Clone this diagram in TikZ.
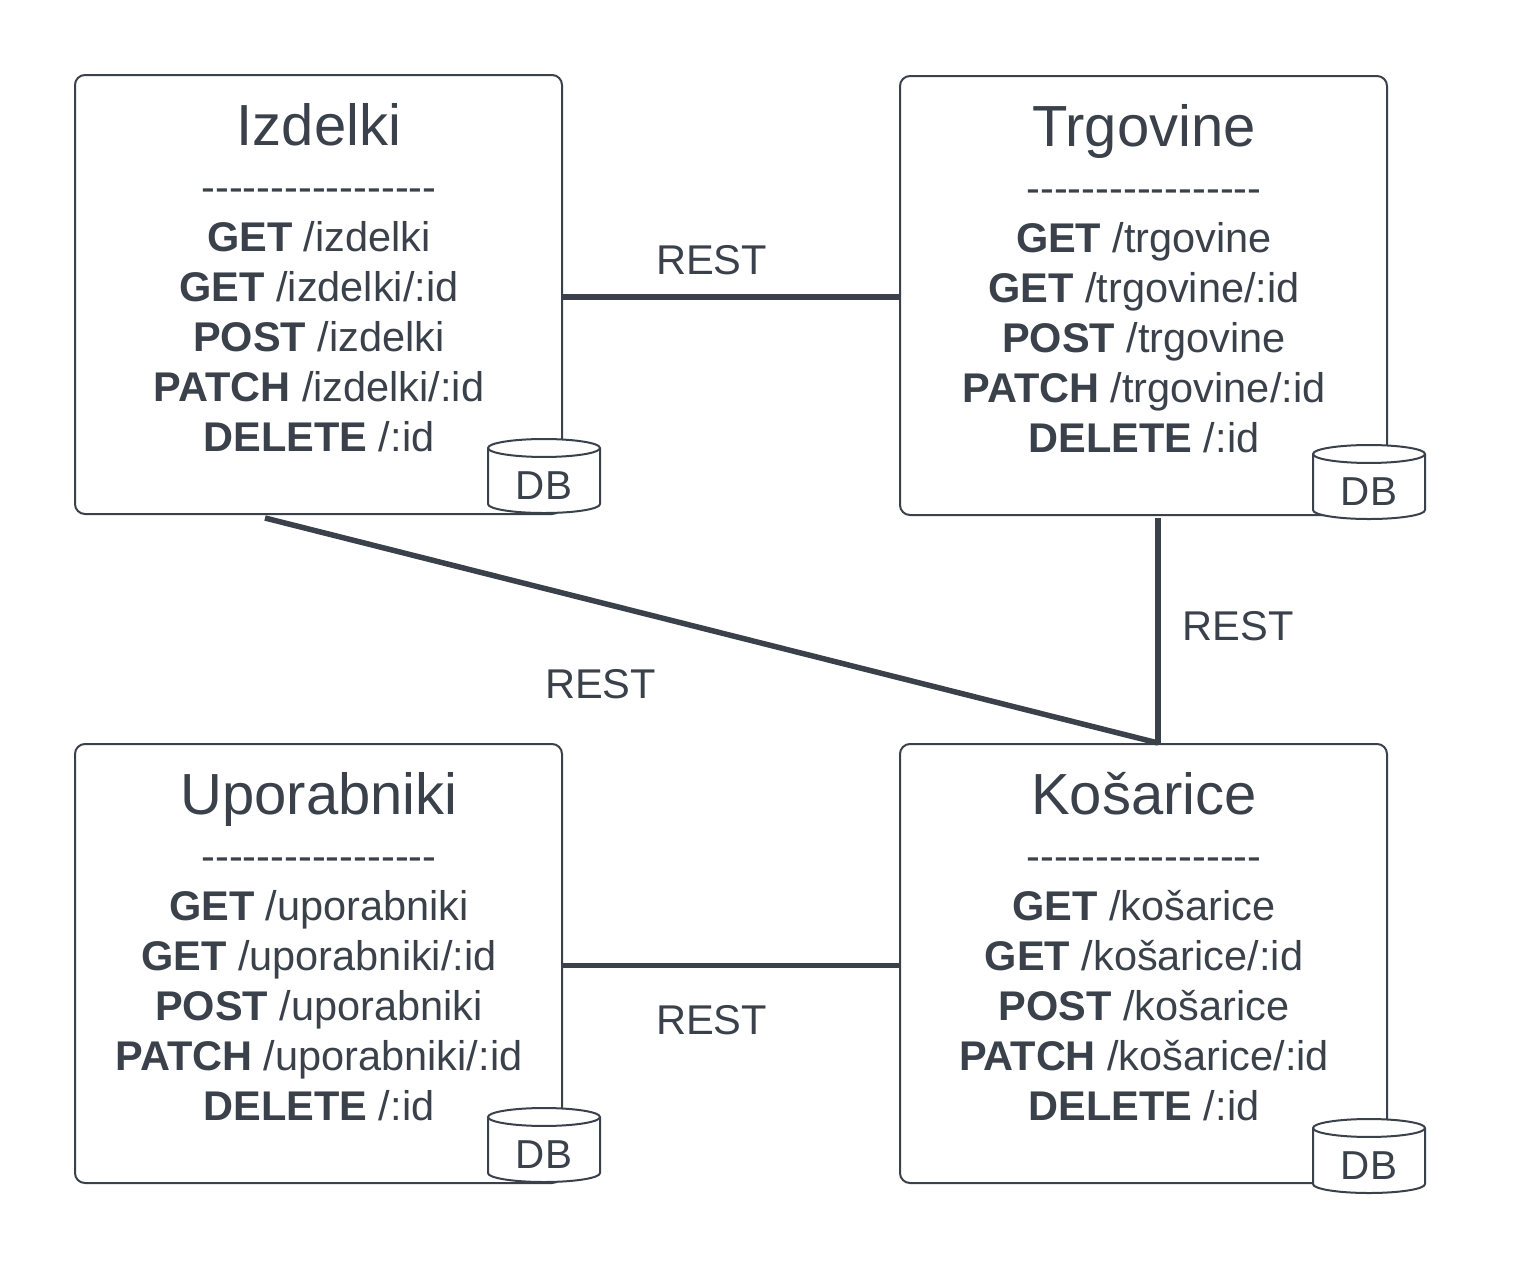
\documentclass[tikz,border=0pt]{standalone}
\usepackage{fontspec}
\newfontfamily\servicefont{Liberation Sans}
\usetikzlibrary{positioning,shapes.geometric}
\definecolor{slate}{HTML}{3A414A}
\newcommand{\titlesize}{\fontsize{29}{33}\selectfont}
\newcommand{\dashrow}{-----------------}
\tikzset{
  service box/.style={draw=slate,line width=1pt,rounded corners=5pt,minimum width=243.5pt,minimum height=219.5pt,inner sep=0pt},
  service text/.style={text=slate,align=center,anchor=north,inner sep=0pt,font=\servicefont\fontsize{20.75}{25}\selectfont},
  db node/.style={cylinder,shape border rotate=90,aspect=0.32,draw=slate,fill=white,line width=1pt,minimum width=56pt,minimum height=37pt,inner sep=0pt,text=slate,text height=18.4pt,text depth=0pt,font=\servicefont\fontsize{20.2}{24}\selectfont},
  rest label/.style={text=slate,font=\servicefont\fontsize{20.8}{24}\selectfont},
  rest line/.style={draw=slate,line width=2.75pt}
}
\begin{document}
\begin{tikzpicture}[x=0.5pt,y=-0.5pt]
\useasboundingbox (0,0) rectangle (1538,1269);

\node[service box] (izdelki) at (318.5,294.5) {};
\node[service box] (trgovine) at (1143.5,295.5) {};
\node[service box] (uporabniki) at (318.5,963.5) {};
\node[service box] (kosarice) at (1143.5,963.5) {};

\node[service text] (izdelkitext) [below=14.5pt of izdelki.north,xshift=0.25pt] {{\titlesize Izdelki}\\[3pt] \dashrow\\ \textbf{GET} /izdelki\\ \textbf{GET} /izdelki/:id\\ \textbf{POST} /izdelki\\ \textbf{PATCH} /izdelki/:id\\ \textbf{DELETE} /:id};
\node[service text] (trgovinetext) [below=14.5pt of trgovine.north,xshift=0.25pt] {{\titlesize Trgovine}\\[3pt] \dashrow\\ \textbf{GET} /trgovine\\ \textbf{GET} /trgovine/:id\\ \textbf{POST} /trgovine\\ \textbf{PATCH} /trgovine/:id\\ \textbf{DELETE} /:id};
\node[service text] (uporabnikitext) [below=14.5pt of uporabniki.north,xshift=0.25pt] {{\titlesize Uporabniki}\\[3pt] \dashrow\\ \textbf{GET} /uporabniki\\ \textbf{GET} /uporabniki/:id\\ \textbf{POST} /uporabniki\\ \textbf{PATCH} /uporabniki/:id\\ \textbf{DELETE} /:id};
\node[service text] (kosaricetext) [below=14.5pt of kosarice.north,xshift=0.25pt] {{\titlesize Košarice}\\[3pt] \dashrow\\ \textbf{GET} /košarice\\ \textbf{GET} /košarice/:id\\ \textbf{POST} /košarice\\ \textbf{PATCH} /košarice/:id\\ \textbf{DELETE} /:id};

\node[db node] (izdelkidb) at (544,481) {DB};
\node[db node] (trgovinedb) at (1369,487) {DB};
\node[db node] (uporabnikidb) at (544,1150) {DB};
\node[db node] (kosaricedb) at (1369,1161) {DB};

\node[rest label] (rest1) at (711.5,260) {REST};
\node[rest label] (rest2) at (1238,626) {REST};
\node[rest label] (rest3) at (600.5,684) {REST};
\node[rest label] (rest4) at (711.5,1020) {REST};

\path[rest line]
    ([yshift=-1.25pt]izdelki.east) edge ([yshift=-0.75pt]trgovine.west)
    ([xshift=-26.75pt,yshift=-1.5pt]izdelki.south) edge ([xshift=7.25pt]kosarice.north)
    ([xshift=7.25pt,yshift=-1pt]trgovine.south) edge ([xshift=7.25pt]kosarice.north)
    ([yshift=-1pt]uporabniki.east) edge ([yshift=-1pt]kosarice.west);

\end{tikzpicture}
\end{document}
